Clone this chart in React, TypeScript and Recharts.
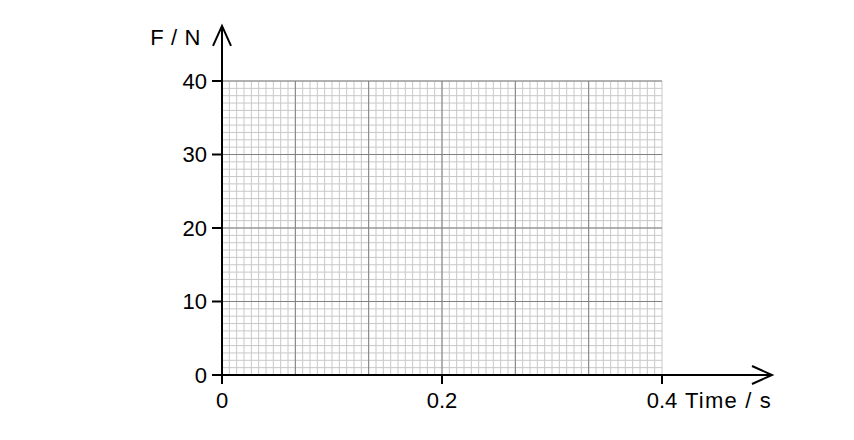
import { LineChart, XAxis, YAxis, ReferenceLine } from 'recharts';

const xTicks = [0, 0.2, 0.4];
const yTicks = [0, 10, 20, 30, 40];
// graph paper: 6 big squares across, 4 up, each split into 10
const xMajor = Array.from({ length: 7 }, (_, i) => (i * 0.4) / 6);
const xMinor = Array.from({ length: 61 }, (_, i) => (i * 0.4) / 60);
const yMajor = [0, 10, 20, 30, 40];
const yMinor = Array.from({ length: 41 }, (_, i) => i);

const FONT = '"Liberation Sans", Arial, sans-serif';
const tickStyle = { fill: '#000', fontSize: 22, fontFamily: FONT };

export default function App() {
  return (
    <div style={{ position: 'absolute', left: 0, top: 0, width: 854, height: 440, background: '#fff' }}>
      <LineChart
        width={854}
        height={440}
        data={[]}
        margin={{ top: 81, right: 192, bottom: 0, left: 162 }}
        style={{ fontFamily: FONT }}
      >
        <defs>
          <marker
            id="arrowHead"
            markerUnits="userSpaceOnUse"
            viewBox="0 0 22 20"
            refX={21}
            refY={10}
            markerWidth={22}
            markerHeight={20}
            orient="auto"
            overflow="visible"
          >
            <path d="M1,1 L21,10 L1,19" fill="none" stroke="#000" strokeWidth={2} />
          </marker>
        </defs>
        <XAxis
          type="number"
          dataKey="t"
          domain={[0, 0.4]}
          allowDataOverflow
          ticks={xTicks}
          tickFormatter={(v: number) => String(v)}
          axisLine={false}
          tickLine={{ stroke: '#000', strokeWidth: 2 }}
          tickSize={9}
          tickMargin={8}
          tick={tickStyle}
          height={65}
          interval={0}
          label={{
            content: (props: any) => {
              const vb = props.viewBox || {};
              return (
                <text
                  x={vb.x + vb.width + 23}
                  y={vb.y + 33}
                  fill="#000"
                  fontSize={22}
                  fontFamily={FONT}
                  letterSpacing={1.2}
                >
                  Time / s
                </text>
              );
            },
          }}
        />
        <YAxis
          type="number"
          domain={[0, 40]}
          allowDataOverflow
          ticks={yTicks}
          axisLine={false}
          tickLine={{ stroke: '#000', strokeWidth: 2 }}
          tickSize={10}
          tickMargin={5}
          tick={tickStyle}
          width={60}
          interval={0}
          label={{
            content: (props: any) => {
              const vb = props.viewBox || {};
              return (
                <text
                  x={vb.x + vb.width - 21}
                  y={vb.y - 36}
                  textAnchor="end"
                  fill="#000"
                  fontSize={22}
                  fontFamily={FONT}
                  letterSpacing={0.6}
                >
                  F / N
                </text>
              );
            },
          }}
        />
        {xMinor.map((v) => (
          <ReferenceLine key={`xm${v}`} x={v} stroke="#c8c8c8" strokeWidth={1} />
        ))}
        {yMinor.map((v) => (
          <ReferenceLine key={`ym${v}`} y={v} stroke="#c8c8c8" strokeWidth={1} />
        ))}
        {xMajor.map((v) => (
          <ReferenceLine key={`xM${v}`} x={v} stroke="#808080" strokeWidth={1} />
        ))}
        {yMajor.map((v) => (
          <ReferenceLine key={`yM${v}`} y={v} stroke="#808080" strokeWidth={1} />
        ))}
        {/* axes with open arrowheads, running past the grid */}
        <ReferenceLine
          segment={[{ x: 0, y: 0 }, { x: 0.5, y: 0 }]}
          ifOverflow="visible"
          stroke="#000"
          strokeWidth={2}
          markerEnd="url(#arrowHead)"
        />
        <ReferenceLine
          segment={[{ x: 0, y: 0 }, { x: 0, y: 47.5 }]}
          ifOverflow="visible"
          stroke="#000"
          strokeWidth={2}
          markerEnd="url(#arrowHead)"
        />
      </LineChart>
    </div>
  );
}
